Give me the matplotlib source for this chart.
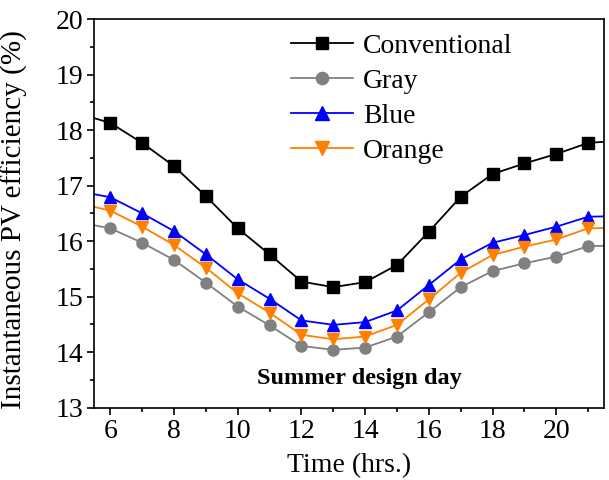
import matplotlib.pyplot as plt
from matplotlib.ticker import MultipleLocator

# hours of the day (5 and 22 only carry the line out to the axis edges)
hours = [5, 6, 7, 8, 9, 10, 11, 12, 13, 14, 15, 16, 17, 18, 19, 20, 21, 22]

# instantaneous PV efficiency (%)
conventional = [18.30, 18.13, 17.77, 17.35, 16.81, 16.23, 15.76, 15.27, 15.17,
                15.26, 15.57, 16.17, 16.80, 17.21, 17.40, 17.57, 17.77, 17.81]
gray = [16.34, 16.23, 15.97, 15.66, 15.25, 14.82, 14.48, 14.11, 14.04,
        14.08, 14.28, 14.72, 15.17, 15.46, 15.60, 15.72, 15.91, 15.92]
blue = [16.90, 16.79, 16.50, 16.18, 15.76, 15.31, 14.96, 14.57, 14.49,
        14.54, 14.75, 15.21, 15.67, 15.97, 16.11, 16.26, 16.44, 16.45]
orange = [16.68, 16.55, 16.26, 15.93, 15.52, 15.06, 14.71, 14.31, 14.23,
          14.28, 14.49, 14.95, 15.43, 15.75, 15.90, 16.03, 16.23, 16.24]

plt.rcParams['font.family'] = ['Liberation Serif', 'DejaVu Serif']

fig = plt.figure(figsize=(6.09, 4.8), dpi=100)
ax = fig.add_axes([0.155, 0.151, 0.837, 0.809])

ax.plot(hours, conventional, color='black', marker='s', markersize=8, lw=1.3, label='Conventional')
ax.plot(hours, gray, color='#808080', marker='o', markersize=8, lw=1.3, label='Gray')
ax.plot(hours, blue, color='#0000ff', marker='^', markersize=9, lw=1.3, label='Blue')
ax.plot(hours, orange, color='#ff8000', marker='v', markersize=9, lw=1.3, label='Orange')

ax.set_xlim(5.5, 21.5)
ax.set_ylim(13, 20)
ax.xaxis.set_major_locator(MultipleLocator(2))
ax.xaxis.set_minor_locator(MultipleLocator(1))
ax.yaxis.set_major_locator(MultipleLocator(1))
ax.yaxis.set_minor_locator(MultipleLocator(0.5))
ax.tick_params(which='major', direction='out', length=5, width=1.2, labelsize=20, pad=3)
ax.tick_params(which='minor', direction='out', length=3, width=1.2)
for s in ax.spines.values():
    s.set_linewidth(1.2)

ax.set_xlabel('Time (hrs.)', fontsize=20, labelpad=7)
ax.set_ylabel('Instantaneous PV efficiency (%)', fontsize=21, labelpad=4)
ax.yaxis.set_label_coords(-0.13, 0.485)

ax.text(0.52, 0.075, 'Summer design day', transform=ax.transAxes,
        ha='center', va='center', fontsize=17.5, fontweight='bold')

ax.legend(loc='upper left', bbox_to_anchor=(0.358, 1.0), frameon=False,
          fontsize=20, handlelength=2.25, handletextpad=0.35, labelspacing=0.35,
          borderaxespad=0.1, markerscale=1.1)

fig.savefig('out.png', dpi=100)
